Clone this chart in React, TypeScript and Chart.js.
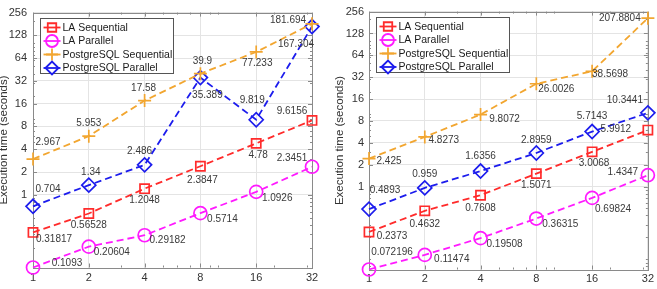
import React, { useEffect, useRef } from "react";
import { Chart, registerables } from "chart.js";

Chart.register(...registerables);

// ---------------- data ----------------
const threads = [1, 2, 4, 8, 16, 32];
const yTickValues = [1, 2, 4, 8, 16, 32, 64, 128, 256];
const seriesNames = ["LA Sequential", "LA Parallel", "PostgreSQL Sequential", "PostgreSQL Parallel"];

// left panel
const leftLaSeq = [0.31817, 0.56528, 1.2048, 2.3847, 4.78, 9.6156];
const leftLaPar = [0.1093, 0.20604, 0.29182, 0.5714, 1.0926, 2.3451];
const leftPgSeq = [2.967, 5.953, 17.58, 39.9, 77.233, 181.694];
const leftPgPar = [0.704, 1.34, 2.486, 35.389, 9.819, 167.304];

// right panel
const rightLaSeq = [0.2373, 0.4632, 0.7608, 1.5071, 3.0068, 5.9912];
const rightLaPar = [0.072196, 0.11474, 0.19508, 0.36315, 0.69824, 1.4347];
const rightPgSeq = [2.425, 4.8273, 9.8072, 26.0026, 38.5698, 207.8804];
const rightPgPar = [0.4893, 0.959, 1.6356, 2.8959, 5.7143, 10.3441];

// ---------------- styles ----------------
const colors = ["#ff2b2b", "#ff1aff", "#f2a630", "#1c1ced"];
const pointStyles = ["rect", "circle", "cross", "rectRot"];
const pointRadii = [6.5, 6.5, 6.5, 7];
const FONT = "'Liberation Sans', Arial, Helvetica, sans-serif";

// label offsets (dx, dy) from each point, per series
const leftOffsets = [
  [[21, 7], [0, 12], [0, 12], [2, 14], [2, 12], [-20, -9]],
  [[34, -4], [23, 6], [23, 5], [22, 6], [21, 6], [-20, -9]],
  [[15, -17], [0, -13], [-1, -12], [2, -12], [1, 11], [-24, -4]],
  [[15, -17], [2, -13], [-5, -14], [7, 18], [-4, -19], [-16, 18]],
];
const rightOffsets = [
  [[23, 4], [0, 13], [0, 13], [0, 12], [2, 11], [-32, -1]],
  [[23, -17], [27, 4], [24, 6], [24, 6], [21, 11], [-25, -3]],
  [[20, 3], [19, 3], [24, 5], [20, 5], [18, 3], [-28, 0]],
  [[16, -19], [0, -14], [0, -15], [0, -13], [0, -15], [-23, -13]],
];

type PanelCfg = {
  series: number[][];
  offsets: number[][][];
  yMin: number;
  width: number;
  yAxisWidth: number;
  rightPad: number;
  xAxisHeight: number;
  yTickPad: number;
  xTickPad: number;
  titlePad: number;
};

function drawMarker(ctx: CanvasRenderingContext2D, style: string, x: number, y: number, r: number) {
  ctx.beginPath();
  if (style === "rect") {
    const s = Math.SQRT1_2 * r;
    ctx.rect(x - s, y - s, 2 * s, 2 * s);
  } else if (style === "circle") {
    ctx.arc(x, y, r, 0, Math.PI * 2);
  } else if (style === "cross") {
    ctx.moveTo(x - r, y);
    ctx.lineTo(x + r, y);
    ctx.moveTo(x, y - r);
    ctx.lineTo(x, y + r);
  } else {
    ctx.moveTo(x - r, y);
    ctx.lineTo(x, y - r);
    ctx.lineTo(x + r, y);
    ctx.lineTo(x, y + r);
    ctx.closePath();
  }
  ctx.stroke();
}

function minorValues(min: number, max: number, majors: number[]) {
  const out: number[] = [];
  for (let e = -3; e <= 3; e++) {
    for (let k = 1; k <= 9; k++) {
      const v = k * Math.pow(10, e);
      if (v > min * 1.0001 && v < max * 0.9999 && !majors.includes(v)) out.push(v);
    }
  }
  return out;
}

function Panel({ cfg }: { cfg: PanelCfg }) {
  const ref = useRef<HTMLCanvasElement | null>(null);

  useEffect(() => {
    const canvas = ref.current;
    if (!canvas) return;

    const framePlugin = {
      id: "frame",
      beforeDatasetsDraw(chart: any) {
        const { ctx, chartArea } = chart;
        const { left, right, top, bottom } = chartArea;
        const xs = chart.scales.x;
        const ys = chart.scales.y;
        ctx.save();
        ctx.strokeStyle = "#8a8a8a";
        ctx.lineWidth = 1;
        ctx.setLineDash([]);
        ctx.strokeRect(Math.round(left) + 0.5, Math.round(top) + 0.5, Math.round(right - left), Math.round(bottom - top));
        ctx.beginPath();
        threads.forEach((v) => {
          const px = Math.round(xs.getPixelForValue(v)) + 0.5;
          ctx.moveTo(px, bottom);
          ctx.lineTo(px, bottom - 4);
          ctx.moveTo(px, top);
          ctx.lineTo(px, top + 4);
        });
        minorValues(1, 32, threads).forEach((v) => {
          const px = Math.round(xs.getPixelForValue(v)) + 0.5;
          ctx.moveTo(px, bottom);
          ctx.lineTo(px, bottom - 2);
          ctx.moveTo(px, top);
          ctx.lineTo(px, top + 2);
        });
        yTickValues.forEach((v) => {
          const py = Math.round(ys.getPixelForValue(v)) + 0.5;
          ctx.moveTo(left, py);
          ctx.lineTo(left + 4, py);
          ctx.moveTo(right, py);
          ctx.lineTo(right - 4, py);
        });
        minorValues(cfg.yMin, 256, yTickValues).forEach((v) => {
          const py = Math.round(ys.getPixelForValue(v)) + 0.5;
          ctx.moveTo(left, py);
          ctx.lineTo(left + 2, py);
          ctx.moveTo(right, py);
          ctx.lineTo(right - 2, py);
        });
        ctx.stroke();
        ctx.restore();
      },
    };

    const labelPlugin = {
      id: "pointLabels",
      afterDatasetsDraw(chart: any) {
        const { ctx } = chart;
        ctx.save();
        ctx.font = `10px ${FONT}`;
        ctx.fillStyle = "#3a3a3a";
        ctx.textAlign = "center";
        ctx.textBaseline = "middle";
        chart.data.datasets.forEach((ds: any, i: number) => {
          const meta = chart.getDatasetMeta(i);
          meta.data.forEach((pt: any, j: number) => {
            const off = cfg.offsets[i][j];
            ctx.fillText(String(ds.data[j].y), pt.x + off[0], pt.y + off[1]);
          });
        });
        ctx.restore();
      },
    };

    const legendPlugin = {
      id: "boxLegend",
      afterDraw(chart: any) {
        const { ctx, chartArea } = chart;
        const bx = Math.round(chartArea.left + 7) + 0.5;
        const by = Math.round(chartArea.top + 5) + 0.5;
        const bw = 133;
        const bh = 55;
        ctx.save();
        ctx.setLineDash([]);
        ctx.fillStyle = "#ffffff";
        ctx.fillRect(bx, by, bw, bh);
        ctx.strokeStyle = "#555555";
        ctx.lineWidth = 1;
        ctx.strokeRect(bx, by, bw, bh);
        ctx.font = `10.5px ${FONT}`;
        ctx.textAlign = "left";
        ctx.textBaseline = "middle";
        seriesNames.forEach((name, i) => {
          const y = by + 9 + i * 13.5;
          ctx.strokeStyle = colors[i];
          ctx.lineWidth = 1.8;
          ctx.beginPath();
          ctx.moveTo(bx + 3, y);
          ctx.lineTo(bx + 20, y);
          ctx.stroke();
          drawMarker(ctx, pointStyles[i], bx + 11.5, y, i === 3 ? 6.5 : 6);
          ctx.fillStyle = "#1a1a1a";
          ctx.fillText(name, bx + 22, y + 0.5);
        });
        ctx.restore();
      },
    };

    const chart = new Chart(canvas, {
      type: "line",
      data: {
        datasets: seriesNames.map((name, i) => ({
          label: name,
          data: threads.map((t, j) => ({ x: t, y: cfg.series[i][j] })),
          borderColor: colors[i],
          backgroundColor: "rgba(0,0,0,0)",
          borderWidth: 1.8,
          borderDash: [7, 4],
          pointStyle: pointStyles[i] as any,
          pointRadius: pointRadii[i],
          pointHoverRadius: pointRadii[i],
          pointBorderWidth: 1.7,
          pointBackgroundColor: "rgba(0,0,0,0)",
          pointBorderColor: colors[i],
          tension: 0,
          clip: false as any,
        })),
      },
      options: {
        animation: false,
        responsive: false,
        maintainAspectRatio: false,
        events: [],
        layout: { padding: { top: 7, right: cfg.rightPad, left: 0, bottom: 0 } },
        plugins: {
          legend: { display: false },
          tooltip: { enabled: false },
          title: { display: false },
        },
        scales: {
          x: {
            type: "logarithmic",
            min: 1,
            max: 32,
            bounds: "data",
            afterBuildTicks: (s: any) => {
              s.ticks = threads.map((v) => ({ value: v }));
            },
            afterFit: (s: any) => {
              s.height = cfg.xAxisHeight;
            },
            ticks: {
              callback: (v: any) => String(v),
              autoSkip: false,
              maxRotation: 0,
              minRotation: 0,
              padding: cfg.xTickPad,
              color: "#333333",
              font: { size: 11, family: FONT },
            },
            grid: { color: "#e4e4e4", drawTicks: false, lineWidth: 1 },
            border: { display: false },
          },
          y: {
            type: "logarithmic",
            min: cfg.yMin,
            max: 256,
            bounds: "data",
            afterBuildTicks: (s: any) => {
              s.ticks = yTickValues.map((v) => ({ value: v }));
            },
            afterFit: (s: any) => {
              s.width = cfg.yAxisWidth;
            },
            ticks: {
              callback: (v: any) => String(v),
              autoSkip: false,
              padding: cfg.yTickPad,
              color: "#333333",
              font: { size: 11, family: FONT },
            },
            grid: { color: "#e4e4e4", drawTicks: false, lineWidth: 1 },
            border: { display: false },
            title: {
              display: true,
              text: "Execution time (seconds)",
              color: "#333333",
              font: { size: 11.5, family: FONT, lineHeight: 1.2 },
              padding: { top: cfg.titlePad, bottom: 0 },
            },
          },
        },
      } as any,
      plugins: [framePlugin, labelPlugin, legendPlugin],
    });
    return () => chart.destroy();
  }, [cfg]);

  return <canvas ref={ref} width={cfg.width} height={289} style={{ display: "block", width: cfg.width, height: 289 }} />;
}

const leftCfg: PanelCfg = {
  series: [leftLaSeq, leftLaPar, leftPgSeq, leftPgPar],
  offsets: leftOffsets,
  yMin: 0.1093,
  width: 328,
  yAxisWidth: 33,
  rightPad: 16,
  xAxisHeight: 21.5,
  yTickPad: 6,
  xTickPad: 4.2,
  titlePad: -2.9,
};

const rightCfg: PanelCfg = {
  series: [rightLaSeq, rightLaPar, rightPgSeq, rightPgPar],
  offsets: rightOffsets,
  yMin: 0.072196,
  width: 329,
  yAxisWidth: 41,
  rightPad: 8,
  xAxisHeight: 19.5,
  yTickPad: 5,
  xTickPad: 3,
  titlePad: 5.1,
};

export default function App() {
  useEffect(() => {
    document.body.style.margin = "0";
  }, []);
  return (
    <div style={{ position: "absolute", left: 0, top: 0, width: 657, height: 289, display: "flex", background: "#ffffff" }}>
      <Panel cfg={leftCfg} />
      <Panel cfg={rightCfg} />
    </div>
  );
}
